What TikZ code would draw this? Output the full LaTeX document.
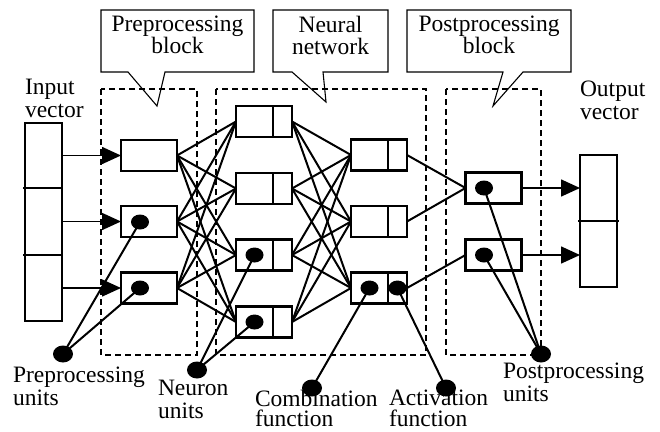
\documentclass[tikz,border=0pt]{standalone}
\usepackage{fontspec}
\setmainfont{Liberation Serif}
\usetikzlibrary{arrows.meta,shapes.geometric,calc}
\begin{document}
\begin{tikzpicture}[x=1pt,y=-1pt,
  lbl/.style={font=\fontsize{23.5}{23}\selectfont, inner sep=0, outer sep=0, align=left, anchor=north west},
  ctxt/.style={font=\fontsize{23.5}{22}\selectfont, inner sep=0, align=center},
  callout/.style={draw, line width=1.1pt, line join=miter},
  region/.style={draw, dash pattern=on 6pt off 4pt, line width=1.6pt},
  unitbox/.style={draw, rectangle, line width=2.6pt, minimum width=56pt, minimum height=31pt, inner sep=0, outer sep=0},
  vec/.style={draw, rectangle, line width=1.6pt, inner sep=0, outer sep=0, minimum width=37pt},
  dot/.style={ellipse, fill, inner sep=0, minimum width=18pt, minimum height=15pt},
  bigdot/.style={ellipse, fill, inner sep=0, minimum width=20pt, minimum height=17pt},
  link/.style={line width=2pt},
  thin/.style={line width=1.6pt},
  feed/.style={line width=1.6pt, -{Triangle[length=19pt,width=17pt]}},
]
\useasboundingbox (0,0) rectangle (660,431);

% dashed regions
\draw[region] (101,89) rectangle (197,355);
\draw[region] (216,89) rectangle (426,355);
\draw[region] (446,89) rectangle (541,355);

% callouts
\draw[callout] (101,10) -- (254,10) -- (254,72) -- (165,72) -- (157,106) -- (128,72) -- (101,72) -- cycle;
\draw[callout] (273,10) -- (388,10) -- (388,72) -- (323,72) -- (326,102) -- (292,72) -- (273,72) -- cycle;
\draw[callout] (407,10) -- (571,10) -- (571,72) -- (523,72) -- (493,106) -- (503,72) -- (407,72) -- cycle;
\node[ctxt] (tpre) at (177.5,35) {Preprocessing\\block};
\node[ctxt] (tnn) at (330.5,35) {Neural\\network};
\node[ctxt] (tpost) at (489,35) {Postprocessing\\block};

% vectors
\node[vec, minimum height=198pt] (inv) at (43.5,222) {};
\draw[thin] (23,188) -- (62,188);
\draw[thin] (23,255) -- (62,255);
\node[vec, minimum height=132pt] (outv) at (598.5,221) {};
\draw[thin] (578,221) -- (619,221);

% preprocessing boxes
\node[unitbox] (p1) at (149,155.5) {};
\node[unitbox] (p2) at (149,221.5) {};
\node[unitbox] (p3) at (149,288) {};

% neuron layer 1
\foreach \n/\y in {n1/121.5,n2/188.5,n3/255,n4/322}{
  \node[unitbox] (\n) at (264,\y) {};
  \draw[line width=2pt] ([xshift=37pt]\n.north west) -- ([xshift=37pt]\n.south west);
}
% neuron layer 2
\foreach \n/\y in {m1/155,m2/221.5,m3/288}{
  \node[unitbox] (\n) at (379,\y) {};
  \draw[line width=2pt] ([xshift=37pt]\n.north west) -- ([xshift=37pt]\n.south west);
}
% postprocessing boxes
\node[unitbox] (q1) at (493.5,188) {};
\node[unitbox] (q2) at (493.5,255) {};

% input / output arrows
\foreach \b in {p1,p2,p3}{
  \draw[feed] (inv.east |- \b) -- (\b.west);
}
\foreach \b in {q1,q2}{
  \draw[feed] (\b.east) -- (outv.west |- \b);
}

% full connections
\foreach \a in {p1,p2,p3}{
  \foreach \b in {n1,n2,n3,n4}{
    \draw[link] (\a.east) -- (\b.west);
  }
}
\foreach \a in {n1,n2,n3,n4}{
  \foreach \b in {m1,m2,m3}{
    \draw[link] (\a.east) -- (\b.west);
  }
}
\draw[link] (m1.east) -- (q1.west);
\draw[link] (m2.east) -- (q1.west);
\draw[link] (m3.east) -- (q2.west);

% dots inside boxes
\node[dot] (pd2) at (140,222) {};
\node[dot] (pd3) at (140,288) {};
\node[dot] (nd3) at (254.5,255) {};
\node[dot] (nd4) at (254.5,322) {};
\node[dot] (cd) at (369.5,288) {};
\node[dot] (ad) at (397.5,288) {};
\node[dot] (qd1) at (484,188) {};
\node[dot] (qd2) at (484,255) {};

% label dots
\node[bigdot] (pu) at (63,354) {};
\node[bigdot] (nu) at (197,370) {};
\node[bigdot] (cu) at (312,388) {};
\node[bigdot] (au) at (446,388) {};
\node[bigdot] (qu) at (541,354) {};

\draw[link] (pu.center) -- (pd2.center);
\draw[link] (pu.center) -- (pd3.center);
\draw[link] (nu.center) -- (nd3.center);
\draw[link] (nu.center) -- (nd4.center);
\draw[link] (cu.center) -- (cd.center);
\draw[link] (au.center) -- (ad.center);
\draw[link] (qu.center) -- (qd1.center);
\draw[link] (qu.center) -- (qd2.center);

% labels
\node[lbl] (linv) at (25,79) {Input\\vector};
\node[lbl] (loutv) at (580,81) {Output\\vector};
\node[lbl] (lpu) at (13,367) {Preprocessing\\units};
\node[lbl] (lnu) at (158,380) {Neuron\\units};
\node[lbl, font=\fontsize{23.5}{20.5}\selectfont] (lcu) at (255,390) {Combination\\function};
\node[lbl, font=\fontsize{23.5}{20.5}\selectfont] (lau) at (389,390) {Activation\\function};
\node[lbl] (lqu) at (503,363) {Postprocessing\\units};
\end{tikzpicture}
\end{document}
